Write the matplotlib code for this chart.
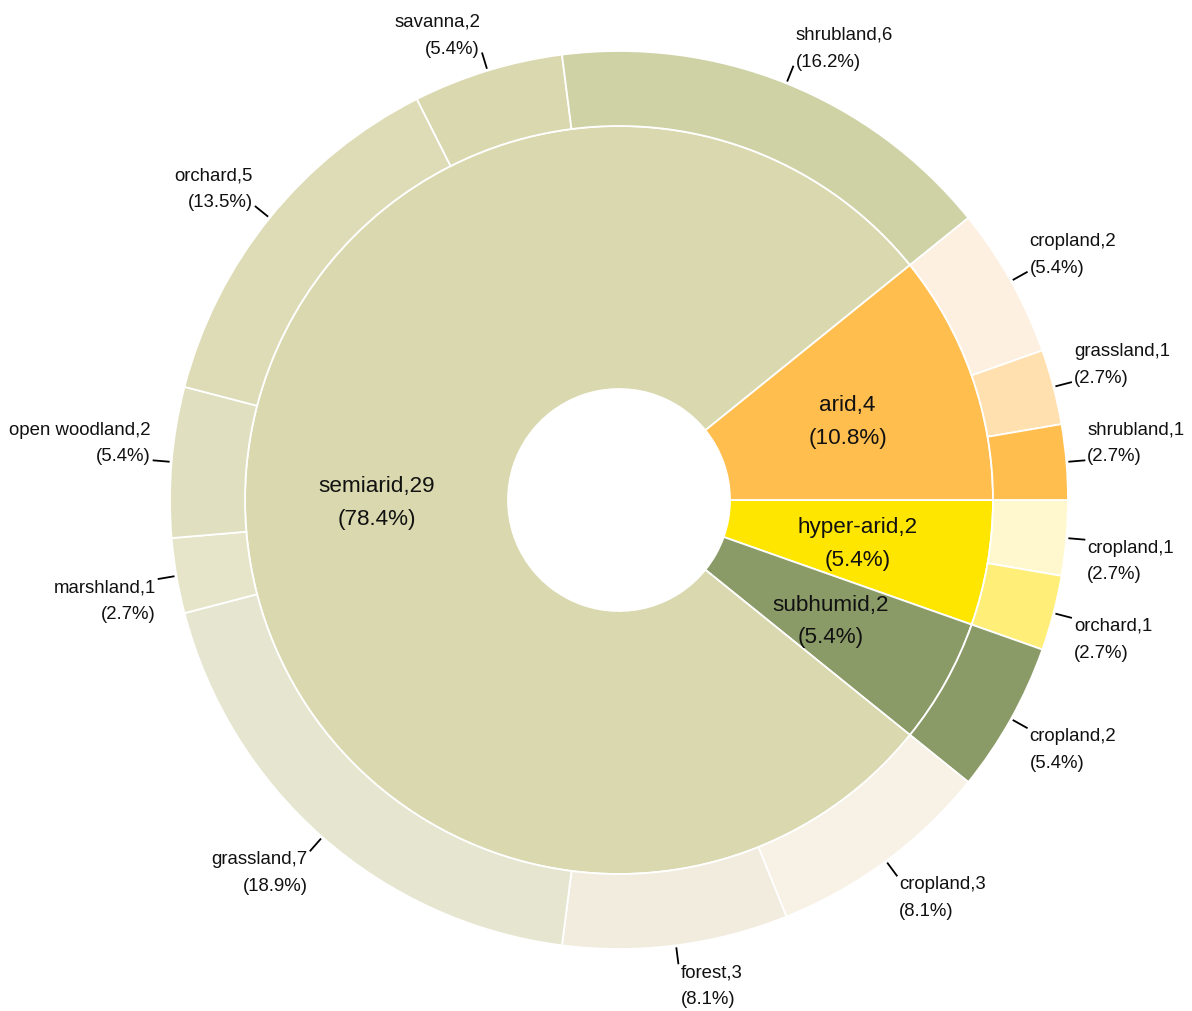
import numpy as np
import matplotlib
matplotlib.use("Agg")
import matplotlib.pyplot as plt

plt.rcParams["font.family"] = ["Liberation Sans", "DejaVu Sans"]

# ── climate zones (inner ring), clockwise from 3 o'clock ─────────────────────
zones = ["hyper-arid", "subhumid", "semiarid", "arid"]
zone_counts = [2, 2, 29, 4]
zone_colors = ["#FFE600", "#8B9B67", "#D9D8AE", "#FFBE4E"]

# ── land cover per zone (outer ring) ─────────────────────────────────────────
cover_zone = ["hyper-arid", "hyper-arid",
              "subhumid",
              "semiarid", "semiarid", "semiarid", "semiarid",
              "semiarid", "semiarid", "semiarid", "semiarid",
              "arid", "arid", "arid"]
cover_names = ["cropland", "orchard",
               "cropland",
               "cropland", "forest", "grassland", "marshland",
               "open woodland", "orchard", "savanna", "shrubland",
               "cropland", "grassland", "shrubland"]
cover_counts = [1, 1,
                2,
                3, 3, 7, 1, 2, 5, 2, 6,
                2, 1, 1]
cover_colors = ["#FFF7CE", "#FFEE78",
                "#8B9B67",
                "#F7F2E5", "#F1ECDE", "#E6E6D0", "#E6E5CA",
                "#E0DFBF", "#DDDCB6", "#DAD8AE", "#CFD2A5",
                "#FDF0E1", "#FFE0AE", "#FFBE4E"]

total = sum(zone_counts)

W, H = 1192, 1011
cx, cy = 619, 511
r_hole, r_mid, r_out = 111, 374, 449

fig = plt.figure(figsize=(W / 100, H / 100), dpi=100)
ax = fig.add_axes([0, 0, 1, 1])

edge = dict(edgecolor="white", linewidth=1.3)
ax.pie(zone_counts, colors=zone_colors, radius=r_mid, center=(cx, cy),
       startangle=0, counterclock=False,
       wedgeprops=dict(width=r_mid - r_hole, **edge))
ax.pie(cover_counts, colors=cover_colors, radius=r_out, center=(cx, cy),
       startangle=0, counterclock=False,
       wedgeprops=dict(width=r_out - r_mid, **edge))

# inner labels, centred in each zone wedge
start = 0.0
r_lab = (r_hole + r_mid) / 2
for name, n in zip(zones, zone_counts):
    mid = np.deg2rad(start - n / total * 180)
    start -= n / total * 360
    ax.text(cx + r_lab * np.cos(mid), cy + r_lab * np.sin(mid) - 3,
            f"{name},{n}\n({n / total * 100:.1f}%)",
            ha="center", va="center", fontsize=16.2, linespacing=1.72,
            color="#111111")

# outer labels with short leader lines
start = 0.0
for name, n in zip(cover_names, cover_counts):
    mid = np.deg2rad(start - n / total * 180)
    start -= n / total * 360
    c, s = np.cos(mid), np.sin(mid)
    x0, y0 = cx + (r_out + 2) * c, cy + (r_out + 2) * s
    x1, y1 = cx + (r_out + 19) * c, cy + (r_out + 19) * s
    ax.plot([x0, x1], [y0, y1], color="black", linewidth=1.3,
            solid_capstyle="butt")
    ha = "left" if c >= 0 else "right"
    va = "bottom" if s >= 0 else "top"
    ty = y1 - 5 if s >= 0 else y1
    ax.text(x1 + (2 if c >= 0 else -2), ty, f"{name},{n}\n({n / total * 100:.1f}%)",
            ha=ha, va=va, fontsize=13.4, linespacing=1.75, color="#111111")

ax.set_xlim(0, W)
ax.set_ylim(0, H)
ax.set_aspect("auto")
ax.axis("off")

fig.savefig("out.png", dpi=100, facecolor="white")
